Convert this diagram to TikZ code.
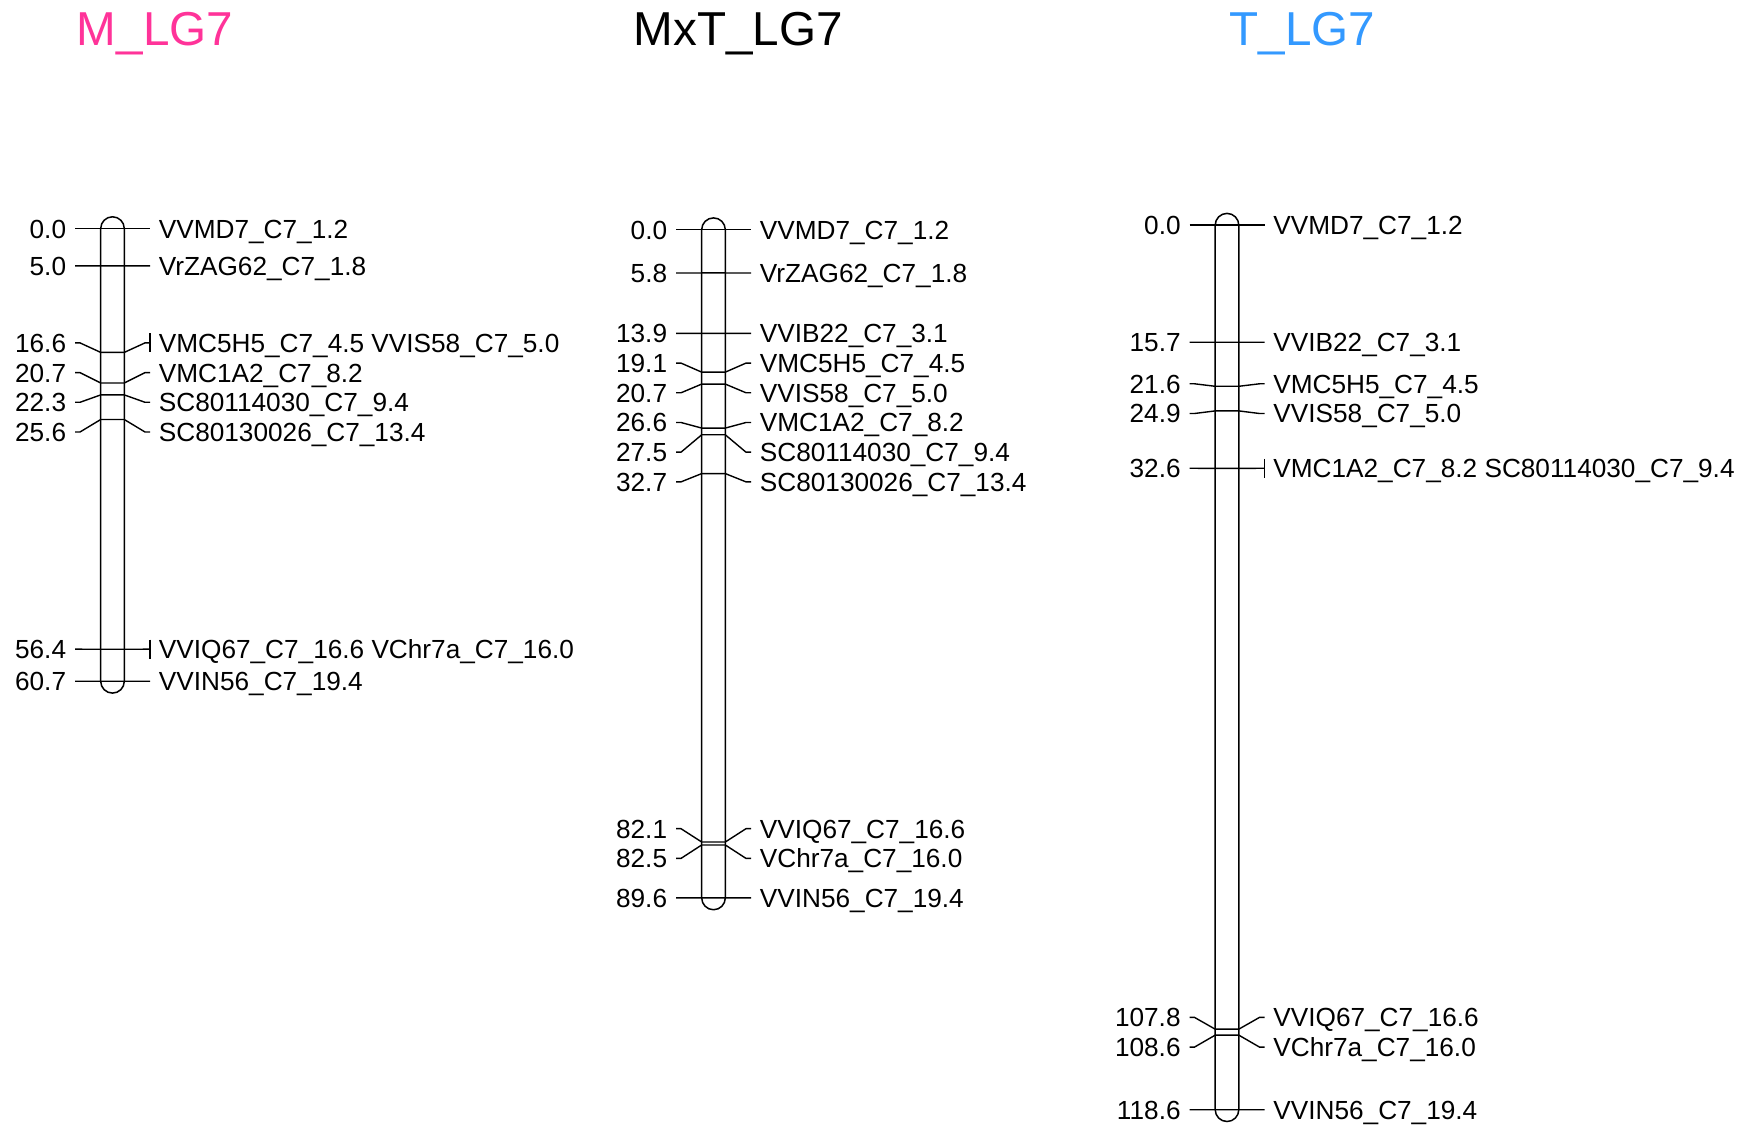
\documentclass[tikz,border=0pt]{standalone}
\usepackage{fontspec}
\setmainfont{Liberation Sans}
\usetikzlibrary{math}
\definecolor{mpink}{RGB}{255,51,153}
\definecolor{tblue}{RGB}{51,153,255}

\tikzset{
  lgbar/.style={line width=0.75pt, rounded corners=5.9pt},
  lgline/.style={line width=0.7pt},
  numlabel/.style={anchor=base east, inner sep=0pt, font=\fontsize{13.1}{15}\selectfont},
  mklabel/.style={anchor=base west, inner sep=0pt, font=\fontsize{13.1}{15}\selectfont},
  lgtitle/.style={anchor=base west, inner sep=0pt, font=\fontsize{23.8}{28}\selectfont},
}

% #1 id, #2 centre x, #3 top y, #4 length (cM), #5 markers pos/label y/value/name/group
\newcommand{\lgmap}[5]{%
  \draw[lgbar] (#2-\hw,#3-\hw) rectangle (#2+\hw,#3+\cmpx*#4+\hw);
  \foreach \pos/\lab/\val/\mrk/\grp [count=\i] in {#5}{
    \pgfmathsetmacro{\ay}{#3+\cmpx*\pos}
    \coordinate (#1-l\i) at (#2-\tick,\lab);
    \coordinate (#1-bl\i) at (#2-\hw,\ay);
    \coordinate (#1-br\i) at (#2+\hw,\ay);
    \coordinate (#1-r\i) at (#2+\tick,\lab);
    \draw[lgline] (#1-l\i) -- ++(\stub,0) -- (#1-bl\i) -- (#1-br\i)
      -- ([xshift=-2.5pt]#1-r\i) -- (#1-r\i);
    \ifnum\grp=1
      \draw[lgline] ([yshift=4.75pt]#1-r\i) -- ([yshift=-4.75pt]#1-r\i);
    \fi
    \node[numlabel] (#1-v\i) at (#2-46,\lab+9.5) {\val};
    \node[mklabel] (#1-m\i) at (#2+46,\lab+9.5) {\mrk};
  }
}

\begin{document}
\begin{tikzpicture}[x=0.5pt,y=-0.5pt]
\tikzmath{
\cmpx=7.458;
\hw=11.8;
\tick=37.5;
\stub=5;
}
\useasboundingbox (0,0) rectangle (1757,1127);

% titles
\node[lgtitle, text=mpink] (tm) at (76.5,46) {M\_LG7};
\node[lgtitle] (tmt) at (633.3,46) {MxT\_LG7};
\node[lgtitle, text=tblue] (tt) at (1229.5,46) {T\_LG7};

% M_LG7
\lgmap{m}{112.5}{228.6}{60.7}{
  0.0/228.6/0.0/VVMD7\_C7\_1.2/0,
  5.0/265.9/5.0/VrZAG62\_C7\_1.8/0,
  16.6/342.9/16.6/VMC5H5\_C7\_4.5 VVIS58\_C7\_5.0/1,
  20.7/372.6/20.7/VMC1A2\_C7\_8.2/0,
  22.3/402.3/22.3/SC80114030\_C7\_9.4/0,
  25.6/432.0/25.6/SC80130026\_C7\_13.4/0,
  56.4/649.2/56.4/VVIQ67\_C7\_16.6 VChr7a\_C7\_16.0/1,
  60.7/681.3/60.7/VVIN56\_C7\_19.4/0}

% MxT_LG7
\lgmap{mt}{713.5}{229.7}{89.6}{
  0.0/229.7/0.0/VVMD7\_C7\_1.2/0,
  5.8/273.0/5.8/VrZAG62\_C7\_1.8/0,
  13.9/333.4/13.9/VVIB22\_C7\_3.1/0,
  19.1/363.1/19.1/VMC5H5\_C7\_4.5/0,
  20.7/392.8/20.7/VVIS58\_C7\_5.0/0,
  26.6/422.5/26.6/VMC1A2\_C7\_8.2/0,
  27.5/452.2/27.5/SC80114030\_C7\_9.4/0,
  32.7/481.9/32.7/SC80130026\_C7\_13.4/0,
  82.1/828.7/82.1/VVIQ67\_C7\_16.6/0,
  82.5/858.4/82.5/VChr7a\_C7\_16.0/0,
  89.6/897.9/89.6/VVIN56\_C7\_19.4/0}

% T_LG7
\lgmap{t}{1227}{225.2}{118.6}{
  0.0/225.2/0.0/VVMD7\_C7\_1.2/0,
  15.7/342.3/15.7/VVIB22\_C7\_3.1/0,
  21.6/383.8/21.6/VMC5H5\_C7\_4.5/0,
  24.9/413.5/24.9/VVIS58\_C7\_5.0/0,
  32.6/468.3/32.6/VMC1A2\_C7\_8.2 SC80114030\_C7\_9.4/1,
  107.8/1017.4/107.8/VVIQ67\_C7\_16.6/0,
  108.6/1047.1/108.6/VChr7a\_C7\_16.0/0,
  118.6/1109.7/118.6/VVIN56\_C7\_19.4/0}
\end{tikzpicture}
\end{document}
